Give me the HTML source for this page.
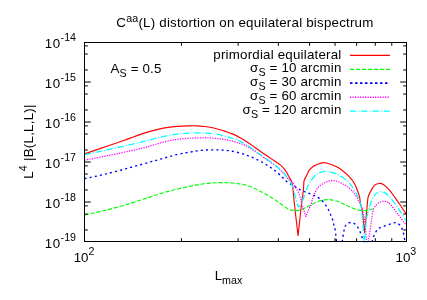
<!DOCTYPE html>
<html><head><meta charset="utf-8">
<style>
html,body{margin:0;padding:0;background:#fff;}
svg{display:block;will-change:transform}
text{font-family:"Liberation Sans",sans-serif;font-size:13.33px;fill:#000}
</style></head><body>
<svg width="427" height="300" viewBox="0 0 427 300">
<rect width="427" height="300" fill="#fff"/>
<g fill="none" stroke-width="1.15" stroke-linejoin="round" transform="translate(0.15,0.45)">
<path d="M84.50,153.40 C88.33,152.08 100.98,147.73 107.50,145.50 C114.02,143.27 119.02,141.62 123.60,140.00 C128.18,138.38 130.77,137.27 135.00,135.80 C139.23,134.33 144.32,132.55 149.00,131.20 C153.68,129.85 158.40,128.58 163.10,127.70 C167.80,126.82 172.72,126.28 177.20,125.90 C181.68,125.52 186.70,125.48 190.00,125.40 C193.30,125.32 194.67,125.30 197.00,125.40 C199.33,125.50 201.65,125.73 204.00,126.00 C206.35,126.27 208.75,126.53 211.10,127.00 C213.45,127.47 215.77,128.15 218.10,128.80 C220.43,129.45 222.75,130.13 225.10,130.90 C227.45,131.67 229.72,132.35 232.20,133.40 C234.68,134.45 237.53,135.83 240.00,137.20 C242.47,138.57 244.65,140.05 247.00,141.60 C249.35,143.15 251.75,144.85 254.10,146.50 C256.45,148.15 258.77,149.88 261.10,151.50 C263.43,153.12 265.77,154.62 268.10,156.20 C270.43,157.78 273.00,159.55 275.10,161.00 C277.20,162.45 279.05,163.45 280.70,164.90 C282.35,166.35 283.67,167.85 285.00,169.70 C286.33,171.55 287.53,173.78 288.70,176.00 C289.87,178.22 291.22,179.88 292.00,183.00 C292.78,186.12 293.02,191.20 293.40,194.70 C293.78,198.20 294.15,202.45 294.30,204.00  L297.90,235.30 L301.30,204.00 C301.62,201.67 302.77,193.92 303.20,190.00 C303.63,186.08 303.43,182.83 303.90,180.50 C304.37,178.17 305.10,177.83 306.00,176.00 C306.90,174.17 307.97,171.28 309.30,169.50 C310.63,167.72 312.28,166.38 314.00,165.30 C315.72,164.22 317.93,163.52 319.60,163.00 C321.27,162.48 322.33,162.12 324.00,162.20 C325.67,162.28 327.73,162.90 329.60,163.50 C331.47,164.10 333.32,164.87 335.20,165.80 C337.08,166.73 338.63,167.40 340.90,169.10 C343.17,170.80 346.62,173.75 348.80,176.00 C350.98,178.25 352.52,180.10 354.00,182.60 C355.48,185.10 356.80,188.67 357.70,191.00 C358.60,193.33 358.93,194.43 359.40,196.60 C359.87,198.77 360.12,202.28 360.50,204.00 C360.88,205.72 361.50,206.42 361.70,206.90  L364.50,232.00 L365.90,218.00 C366.13,215.37 366.90,205.93 367.30,202.20 C367.70,198.47 367.52,197.93 368.30,195.60 C369.08,193.27 370.92,190.07 372.00,188.20 C373.08,186.33 373.63,185.27 374.80,184.40 C375.97,183.53 377.60,183.07 379.00,183.00 C380.40,182.93 381.55,182.98 383.20,184.00 C384.85,185.02 387.02,187.00 388.90,189.10 C390.78,191.20 392.70,194.12 394.50,196.60 C396.30,199.08 397.75,201.13 399.70,204.00 C401.65,206.87 405.12,212.17 406.20,213.80" stroke="#ff0000"/>
<path d="M84.50,214.50 C87.92,213.73 97.42,211.82 105.00,209.90 C112.58,207.98 122.67,205.17 130.00,203.00 C137.33,200.83 143.48,198.68 149.00,196.90 C154.52,195.12 158.40,193.70 163.10,192.30 C167.80,190.90 172.72,189.58 177.20,188.50 C181.68,187.42 186.70,186.48 190.00,185.80 C193.30,185.12 194.67,184.82 197.00,184.40 C199.33,183.98 201.65,183.60 204.00,183.30 C206.35,183.00 208.75,182.78 211.10,182.60 C213.45,182.42 215.77,182.27 218.10,182.20 C220.43,182.13 222.75,182.13 225.10,182.20 C227.45,182.27 229.85,182.40 232.20,182.60 C234.55,182.80 236.83,183.03 239.20,183.40 C241.57,183.77 244.27,184.22 246.40,184.80 C248.53,185.38 249.88,186.00 252.00,186.90 C254.12,187.80 256.75,189.02 259.10,190.20 C261.45,191.38 263.77,192.67 266.10,194.00 C268.43,195.33 270.77,196.68 273.10,198.20 C275.43,199.72 277.75,201.47 280.10,203.10 C282.45,204.73 285.08,206.87 287.20,208.00 C289.32,209.13 290.93,209.58 292.80,209.90 C294.67,210.22 296.75,210.12 298.40,209.90 C300.05,209.68 301.20,209.20 302.70,208.60 C304.20,208.00 305.98,206.98 307.40,206.30 C308.82,205.62 309.63,205.33 311.20,204.50 C312.77,203.67 314.67,202.15 316.80,201.30 C318.93,200.45 322.02,199.75 324.00,199.40 C325.98,199.05 327.13,199.12 328.70,199.20 C330.27,199.28 331.85,199.58 333.40,199.90 C334.95,200.22 336.45,200.55 338.00,201.10 C339.55,201.65 341.60,202.72 342.70,203.20 C343.80,203.68 343.50,203.48 344.60,204.00 C345.70,204.52 347.58,205.52 349.30,206.30 C351.02,207.08 352.92,208.07 354.90,208.70 C356.88,209.33 359.20,209.90 361.20,210.10 C363.20,210.30 365.02,210.17 366.90,209.90 C368.78,209.63 371.25,208.85 372.50,208.50 C373.75,208.15 374.08,207.92 374.40,207.80" stroke="#00ff00" stroke-dasharray="4.2 1.8"/>
<path d="M84.50,178.20 C87.92,177.45 97.42,175.55 105.00,173.70 C112.58,171.85 121.63,169.37 130.00,167.10 C138.37,164.83 147.33,162.28 155.20,160.10 C163.07,157.92 171.40,155.42 177.20,154.00 C183.00,152.58 186.70,152.20 190.00,151.60 C193.30,151.00 194.67,150.72 197.00,150.40 C199.33,150.08 201.65,149.87 204.00,149.70 C206.35,149.53 208.75,149.45 211.10,149.40 C213.45,149.35 215.77,149.33 218.10,149.40 C220.43,149.47 222.75,149.57 225.10,149.80 C227.45,150.03 229.72,150.33 232.20,150.80 C234.68,151.27 237.53,151.90 240.00,152.60 C242.47,153.30 244.65,154.13 247.00,155.00 C249.35,155.87 251.75,156.75 254.10,157.80 C256.45,158.85 258.77,160.02 261.10,161.30 C263.43,162.58 265.77,163.98 268.10,165.50 C270.43,167.02 272.75,168.53 275.10,170.40 C277.45,172.27 280.48,175.07 282.20,176.70 C283.92,178.33 284.17,179.15 285.40,180.20 C286.63,181.25 287.50,181.67 289.60,183.00 C291.70,184.33 295.82,186.95 298.00,188.20 C300.18,189.45 301.13,189.80 302.70,190.50 C304.27,191.20 305.83,191.77 307.40,192.40 C308.97,193.03 310.62,193.68 312.10,194.30 C313.58,194.92 314.90,195.32 316.30,196.10 C317.70,196.88 319.22,197.93 320.50,199.00 C321.78,200.07 322.95,201.20 324.00,202.50 C325.05,203.80 325.93,205.38 326.80,206.80 C327.67,208.22 328.50,209.52 329.20,211.00 C329.90,212.48 330.38,214.13 331.00,215.70 C331.62,217.27 332.43,218.83 332.90,220.40 C333.37,221.97 333.43,223.53 333.80,225.10 C334.17,226.67 334.68,227.07 335.10,229.80 C335.52,232.53 336.10,239.55 336.30,241.50 M342.00,241.50 C342.28,239.78 343.27,233.70 343.70,231.20 C344.13,228.70 343.90,227.92 344.60,226.50 C345.30,225.08 346.57,223.40 347.90,222.70 C349.23,222.00 351.15,221.85 352.60,222.30 C354.05,222.75 355.47,224.12 356.60,225.40 C357.73,226.68 358.63,228.45 359.40,230.00 C360.17,231.55 360.67,233.20 361.20,234.70 C361.73,236.20 362.28,237.87 362.60,239.00 C362.92,240.13 363.02,241.08 363.10,241.50 M371.80,241.50 C372.07,240.60 372.75,237.77 373.40,236.10 C374.05,234.43 374.83,232.85 375.70,231.50 C376.57,230.15 377.35,228.92 378.60,228.00 C379.85,227.08 381.57,226.62 383.20,226.00 C384.83,225.38 386.75,224.88 388.40,224.30 C390.05,223.72 391.62,222.80 393.10,222.50 C394.58,222.20 396.05,221.92 397.30,222.50 C398.55,223.08 399.67,224.63 400.60,226.00 C401.53,227.37 402.37,229.12 402.90,230.70 C403.43,232.28 403.48,233.78 403.80,235.50 C404.12,237.22 404.63,240.08 404.80,241.00" stroke="#0000ff" stroke-dasharray="2.1 3.1" stroke-width="1.35"/>
<path d="M84.50,159.70 C88.33,158.95 98.67,157.02 107.50,155.20 C116.33,153.38 130.58,150.35 137.50,148.80 C144.42,147.25 144.73,147.08 149.00,145.90 C153.27,144.72 158.40,142.87 163.10,141.70 C167.80,140.53 172.72,139.55 177.20,138.90 C181.68,138.25 185.53,138.07 190.00,137.80 C194.47,137.53 200.48,137.35 204.00,137.30 C207.52,137.25 208.75,137.35 211.10,137.50 C213.45,137.65 215.77,137.92 218.10,138.20 C220.43,138.48 222.75,138.78 225.10,139.20 C227.45,139.62 229.72,140.07 232.20,140.70 C234.68,141.33 237.53,142.12 240.00,143.00 C242.47,143.88 244.65,144.77 247.00,146.00 C249.35,147.23 251.75,148.83 254.10,150.40 C256.45,151.97 258.77,153.77 261.10,155.40 C263.43,157.03 265.77,158.58 268.10,160.20 C270.43,161.82 272.75,163.23 275.10,165.10 C277.45,166.97 280.13,169.28 282.20,171.40 C284.27,173.52 285.72,175.87 287.50,177.80 C289.28,179.73 291.45,181.27 292.90,183.00 C294.35,184.73 295.18,186.40 296.20,188.20 C297.22,190.00 298.22,191.93 299.00,193.80 C299.78,195.67 300.43,197.70 300.90,199.40 C301.37,201.10 301.65,203.23 301.80,204.00  L303.50,209.50 L305.70,216.00 L308.00,210.50 L310.00,206.00 L311.20,204.00 C311.35,203.23 311.48,201.42 312.10,199.40 C312.72,197.38 313.80,194.08 314.90,191.90 C316.00,189.72 317.18,187.85 318.70,186.30 C320.22,184.75 322.33,183.57 324.00,182.60 C325.67,181.63 327.13,180.90 328.70,180.50 C330.27,180.10 331.85,180.08 333.40,180.20 C334.95,180.32 336.45,180.65 338.00,181.20 C339.55,181.75 341.13,182.65 342.70,183.50 C344.27,184.35 345.83,185.13 347.40,186.30 C348.97,187.47 350.68,188.93 352.10,190.50 C353.52,192.07 354.68,193.75 355.90,195.70 C357.12,197.65 358.43,200.03 359.40,202.20 C360.37,204.37 361.00,206.67 361.70,208.70 C362.40,210.73 363.18,212.85 363.60,214.40 C364.02,215.95 364.10,217.40 364.20,218.00  L366.60,241.50 L368.10,241.50 L372.00,216.00 C372.23,214.78 372.62,210.70 373.40,208.70 C374.18,206.70 375.60,205.17 376.70,204.00 C377.80,202.83 378.83,202.23 380.00,201.70 C381.17,201.17 382.45,200.80 383.70,200.80 C384.95,200.80 386.40,201.17 387.50,201.70 C388.60,202.23 388.55,201.95 390.30,204.00 C392.05,206.05 395.43,210.65 398.00,214.00 C400.57,217.35 404.42,222.42 405.70,224.10" stroke="#ff00ff" stroke-dasharray="1.25 1.25" stroke-width="1.25"/>
<path d="M84.50,154.10 C88.33,153.30 99.08,151.13 107.50,149.30 C115.92,147.47 128.08,144.72 135.00,143.10 C141.92,141.48 144.32,140.77 149.00,139.60 C153.68,138.43 158.40,137.10 163.10,136.10 C167.80,135.10 172.72,134.18 177.20,133.60 C181.68,133.02 185.53,132.77 190.00,132.60 C194.47,132.43 199.32,132.37 204.00,132.60 C208.68,132.83 214.58,133.47 218.10,134.00 C221.62,134.53 222.75,135.17 225.10,135.80 C227.45,136.43 229.72,136.95 232.20,137.80 C234.68,138.65 237.53,139.75 240.00,140.90 C242.47,142.05 244.65,143.25 247.00,144.70 C249.35,146.15 251.75,147.92 254.10,149.60 C256.45,151.28 258.77,153.10 261.10,154.80 C263.43,156.50 265.77,158.13 268.10,159.80 C270.43,161.47 272.75,162.92 275.10,164.80 C277.45,166.68 280.28,169.18 282.20,171.10 C284.12,173.02 284.97,173.92 286.60,176.30 C288.23,178.68 290.63,182.33 292.00,185.40 C293.37,188.47 293.95,191.60 294.80,194.70 C295.65,197.80 296.72,202.45 297.10,204.00  L298.30,206.40 L300.00,204.00 C300.38,203.40 301.30,202.73 302.30,200.40 C303.30,198.07 304.83,192.97 306.00,190.00 C307.17,187.03 307.97,184.93 309.30,182.60 C310.63,180.27 312.55,177.62 314.00,176.00 C315.45,174.38 316.33,173.73 318.00,172.90 C319.67,172.07 322.32,171.28 324.00,171.00 C325.68,170.72 326.53,170.97 328.10,171.20 C329.67,171.43 331.75,171.90 333.40,172.40 C335.05,172.90 336.75,173.60 338.00,174.20 C339.25,174.80 339.33,174.92 340.90,176.00 C342.47,177.08 345.53,178.98 347.40,180.70 C349.27,182.42 350.68,184.27 352.10,186.30 C353.52,188.33 354.68,190.72 355.90,192.90 C357.12,195.08 358.52,197.07 359.40,199.40 C360.28,201.73 360.73,203.80 361.20,206.90 C361.67,210.00 362.03,216.15 362.20,218.00  L364.20,243.00 L366.30,218.00 C366.70,216.45 367.90,211.50 368.70,208.70 C369.50,205.90 370.12,203.57 371.10,201.20 C372.08,198.83 373.38,196.08 374.60,194.50 C375.82,192.92 377.15,192.20 378.40,191.70 C379.65,191.20 380.72,191.17 382.10,191.50 C383.48,191.83 385.30,192.68 386.70,193.70 C388.10,194.72 389.08,195.95 390.50,197.60 C391.92,199.25 393.53,201.20 395.20,203.60 C396.87,206.00 398.75,209.27 400.50,212.00 C402.25,214.73 404.83,218.67 405.70,220.00" stroke="#00ffff" stroke-dasharray="6.3 2.1 1 1.8" stroke-width="1.3"/>
</g>
<g fill="none" stroke-width="1.3">
<path d="M350,55.4H390" stroke="#ff0000"/>
<path d="M350,69.4H390" stroke="#00ff00" stroke-dasharray="4.2 1.8"/>
<path d="M350,83.1H390" stroke="#0000ff" stroke-dasharray="2.5 2.5" stroke-width="1.6"/>
<path d="M350,97.2H390" stroke="#ff00ff" stroke-dasharray="1.25 1.25" stroke-width="1.6"/>
<path d="M350,111.05H390" stroke="#00ffff" stroke-dasharray="6.3 2.1 1 1.8"/>
</g>
<g fill="none" stroke="#000" stroke-width="1">
<rect x="84.5" y="42.5" width="322.0" height="199.0"/>
<path d="M84.50,69.96 h3.3 M406.50,69.96 h-3.3 M84.50,54.04 h3.3 M406.50,54.04 h-3.3 M84.50,45.88 h3.3 M406.50,45.88 h-3.3 M84.50,82.00 h6.3 M406.50,82.00 h-6.3 M84.50,109.96 h3.3 M406.50,109.96 h-3.3 M84.50,94.04 h3.3 M406.50,94.04 h-3.3 M84.50,85.88 h3.3 M406.50,85.88 h-3.3 M84.50,122.00 h6.3 M406.50,122.00 h-6.3 M84.50,149.96 h3.3 M406.50,149.96 h-3.3 M84.50,134.04 h3.3 M406.50,134.04 h-3.3 M84.50,125.88 h3.3 M406.50,125.88 h-3.3 M84.50,162.00 h6.3 M406.50,162.00 h-6.3 M84.50,189.96 h3.3 M406.50,189.96 h-3.3 M84.50,174.04 h3.3 M406.50,174.04 h-3.3 M84.50,165.88 h3.3 M406.50,165.88 h-3.3 M84.50,202.00 h6.3 M406.50,202.00 h-6.3 M84.50,229.96 h3.3 M406.50,229.96 h-3.3 M84.50,214.04 h3.3 M406.50,214.04 h-3.3 M84.50,205.88 h3.3 M406.50,205.88 h-3.3 M181.43,241.50 v-3.3 M181.43,42.50 v3.3 M238.13,241.50 v-3.3 M238.13,42.50 v3.3 M278.36,241.50 v-3.3 M278.36,42.50 v3.3 M309.57,241.50 v-3.3 M309.57,42.50 v3.3 M335.06,241.50 v-3.3 M335.06,42.50 v3.3 M356.62,241.50 v-3.3 M356.62,42.50 v3.3 M375.29,241.50 v-3.3 M375.29,42.50 v3.3 M391.77,241.50 v-3.3 M391.77,42.50 v3.3 "/>
</g>
<text x="116.3" y="27.3" textLength="257" lengthAdjust="spacing">C<tspan font-size="10.67" dy="-5.8">aa</tspan><tspan dy="5.8">(L) distortion on equilateral bispectrum</tspan></text>
<g text-anchor="end">
<text x="341.3" y="59.2" textLength="128" lengthAdjust="spacing">primordial equilateral</text>
<text x="341.3" y="72.0" textLength="91.2" lengthAdjust="spacing">σ<tspan font-size="10.67" dy="4.2">S</tspan><tspan dy="-4.2"> = 10 arcmin</tspan></text>
<text x="341.3" y="85.9" textLength="91.2" lengthAdjust="spacing">σ<tspan font-size="10.67" dy="4.2">S</tspan><tspan dy="-4.2"> = 30 arcmin</tspan></text>
<text x="341.3" y="99.5" textLength="91.2" lengthAdjust="spacing">σ<tspan font-size="10.67" dy="4.2">S</tspan><tspan dy="-4.2"> = 60 arcmin</tspan></text>
<text x="341.3" y="113.5" textLength="98.8" lengthAdjust="spacing">σ<tspan font-size="10.67" dy="4.2">S</tspan><tspan dy="-4.2"> = 120 arcmin</tspan></text>
</g>
<text x="110.5" y="72.6" textLength="50.8" lengthAdjust="spacing">A<tspan font-size="10.67" dy="4.2">S</tspan><tspan dy="-4.2"> = 0.5</tspan></text>
<g text-anchor="end">
<text x="76" y="47.7"><tspan letter-spacing="0.5">10</tspan><tspan font-size="10.67" dy="-6.8">-14</tspan></text>
<text x="76" y="87.7"><tspan letter-spacing="0.5">10</tspan><tspan font-size="10.67" dy="-6.8">-15</tspan></text>
<text x="76" y="127.7"><tspan letter-spacing="0.5">10</tspan><tspan font-size="10.67" dy="-6.8">-16</tspan></text>
<text x="76" y="167.7"><tspan letter-spacing="0.5">10</tspan><tspan font-size="10.67" dy="-6.8">-17</tspan></text>
<text x="76" y="207.7"><tspan letter-spacing="0.5">10</tspan><tspan font-size="10.67" dy="-6.8">-18</tspan></text>
<text x="76" y="247.7"><tspan letter-spacing="0.5">10</tspan><tspan font-size="10.67" dy="-6.8">-19</tspan></text>
</g>
<text x="73.7" y="261.6">10<tspan font-size="10.67" dy="-6.8">2</tspan></text>
<text x="395.5" y="261.6">10<tspan font-size="10.67" dy="-6.8">3</tspan></text>
<text x="214.7" y="280">L<tspan font-size="10.67" dy="4.2">max</tspan></text>
<text transform="translate(33.4,178.8) rotate(-90)" textLength="74.3" lengthAdjust="spacing">L<tspan font-size="10.67" dy="-6.8">4</tspan><tspan dy="6.8"> |B(L,L,L)|</tspan></text>
</svg>
</body></html>
